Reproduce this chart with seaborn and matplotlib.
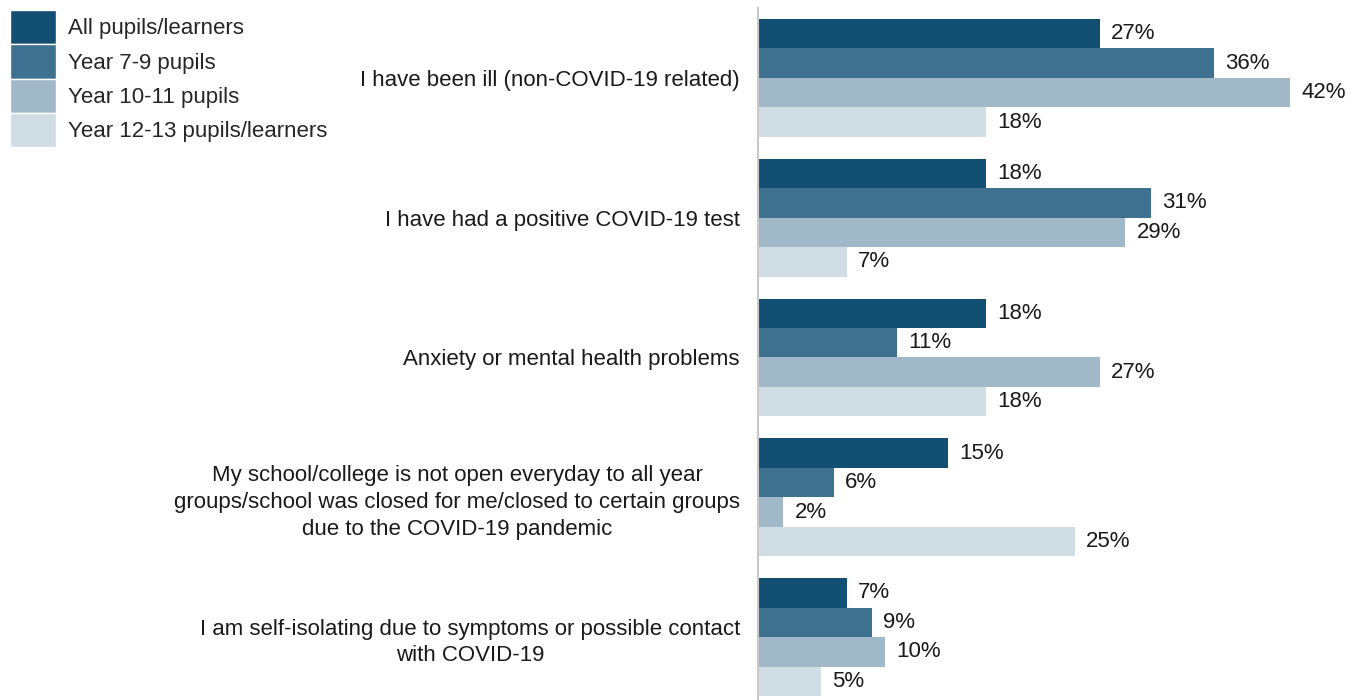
import numpy as np
import pandas as pd
import matplotlib
matplotlib.use("Agg")
import matplotlib.pyplot as plt
import seaborn as sns

reasons = [
    "I have been ill (non-COVID-19 related)",
    "I have had a positive COVID-19 test",
    "Anxiety or mental health problems",
    "My school/college is not open everyday to all year\ngroups/school was closed for me/closed to certain groups\ndue to the COVID-19 pandemic",
    "I am self-isolating due to symptoms or possible contact\nwith COVID-19",
]
groups = ["All pupils/learners", "Year 7-9 pupils", "Year 10-11 pupils", "Year 12-13 pupils/learners"]
all_pupils = [27, 18, 18, 15, 7]
year_7_9 = [36, 31, 11, 6, 9]
year_10_11 = [42, 29, 27, 2, 10]
year_12_13 = [18, 7, 18, 25, 5]
colours = ["#124f73", "#3e7090", "#a1b8c8", "#d0dde4"]

df = pd.DataFrame({
    "reason": reasons * 4,
    "group": np.repeat(groups, len(reasons)),
    "pct": all_pupils + year_7_9 + year_10_11 + year_12_13,
})

sns.set_style("white")
plt.rcParams["font.family"] = ["Liberation Sans", "DejaVu Sans"]

fig = plt.figure(figsize=(13.56, 7.0), dpi=100)
ax = fig.add_axes([758 / 1356, 0.0, 1 - 758 / 1356, 1 - 8 / 700])

sns.barplot(data=df, y="reason", x="pct", hue="group", order=reasons, hue_order=groups,
            palette=colours, orient="h", width=0.843, linewidth=0, saturation=1, ax=ax)

for cont in ax.containers:
    ax.bar_label(cont, fmt="%d%%", padding=8, fontsize=16, color="#1a1a1a")

ax.set_xlim(0, 47.2)
ax.set_ylim(4.45, -0.5)
ax.set_xlabel("")
ax.set_ylabel("")
ax.set_xticks([])
ax.tick_params(axis="y", length=0, pad=13, labelsize=16, labelcolor="#1a1a1a")
for lab in ax.get_yticklabels():
    lab.set_multialignment("center")
    lab.set_linespacing(1.35)
for side in ["top", "right", "bottom"]:
    ax.spines[side].set_visible(False)
ax.spines["left"].set_color("#c8c8c8")
ax.spines["left"].set_linewidth(1.5)

handles, labels = ax.get_legend_handles_labels()
ax.legend_.remove()
leg = fig.legend(handles, labels, loc="upper left", bbox_to_anchor=(0.0, 1.0),
                 bbox_transform=fig.transFigure, frameon=False, fontsize=16,
                 handlelength=2.07, handleheight=2.0, labelspacing=0.0,
                 handletextpad=0.55, borderaxespad=0.3, borderpad=0.15)
for h in leg.legend_handles:
    h.set_edgecolor("white")
    h.set_linewidth(1.0)

fig.savefig("out.png", dpi=100)
